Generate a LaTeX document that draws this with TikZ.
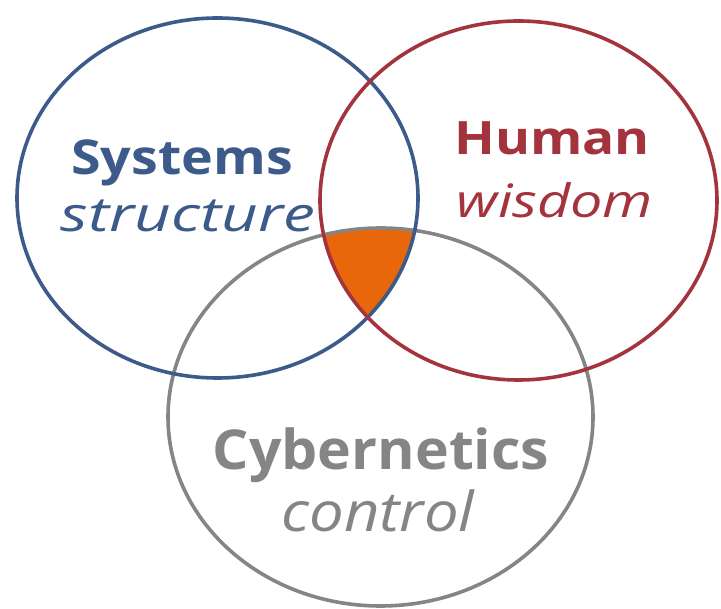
\documentclass[tikz,border=0pt]{standalone}
\usepackage{graphicx}
\usepackage{fontspec}
\setmainfont{Open Sans}
\begin{document}
\definecolor{sysblue}{HTML}{3C5A8A}
\definecolor{humred}{HTML}{A3333D}
\definecolor{cybgray}{HTML}{858585}
\definecolor{coreorange}{HTML}{E8670A}
\newcommand{\wide}[2]{\scalebox{#1}[1]{#2}}
\begin{tikzpicture}[x=1pt,y=-1pt,
  ring/.style={line width=3.6pt},
  head/.style={anchor=base,font=\bfseries\fontsize{#1}{#1}\selectfont,inner sep=0pt},
  sub/.style={anchor=base,font=\itshape\fontsize{#1}{#1}\selectfont,inner sep=0pt}]
  \useasboundingbox (0,0) rectangle (721,609);
  % common core of the three sets
  \begin{scope}
    \clip (217.5,198) ellipse [x radius=200.5, y radius=180];
    \clip (518.5,200.5) ellipse [x radius=198.5, y radius=179.5];
    \fill[coreorange] (380.5,417) ellipse [x radius=212.5, y radius=189];
  \end{scope}
  % outlines
  \draw[ring,cybgray] (380.5,417) ellipse [x radius=212.5, y radius=189];
  \draw[ring,sysblue] (217.5,198) ellipse [x radius=200.5, y radius=180];
  \draw[ring,humred] (518.5,200.5) ellipse [x radius=198.5, y radius=179.5];
  % labels
  \node[head=48,text=sysblue] (sys) at (182,175) {\wide{1.12}{Systems}};
  \node[sub=48,text=sysblue] (struct) at (188,232) {\wide{1.33}{structure}};
  \node[head=46,text=humred] (hum) at (552,155) {\wide{1.16}{Human}};
  \node[sub=46,text=humred] (wis) at (555,218) {\wide{1.25}{wisdom}};
  \node[head=55,text=cybgray] (cyb) at (381,470) {\wide{1.04}{Cybernetics}};
  \node[sub=55,text=cybgray] (ctrl) at (378,532) {\wide{1.12}{control}};
\end{tikzpicture}
\end{document}
